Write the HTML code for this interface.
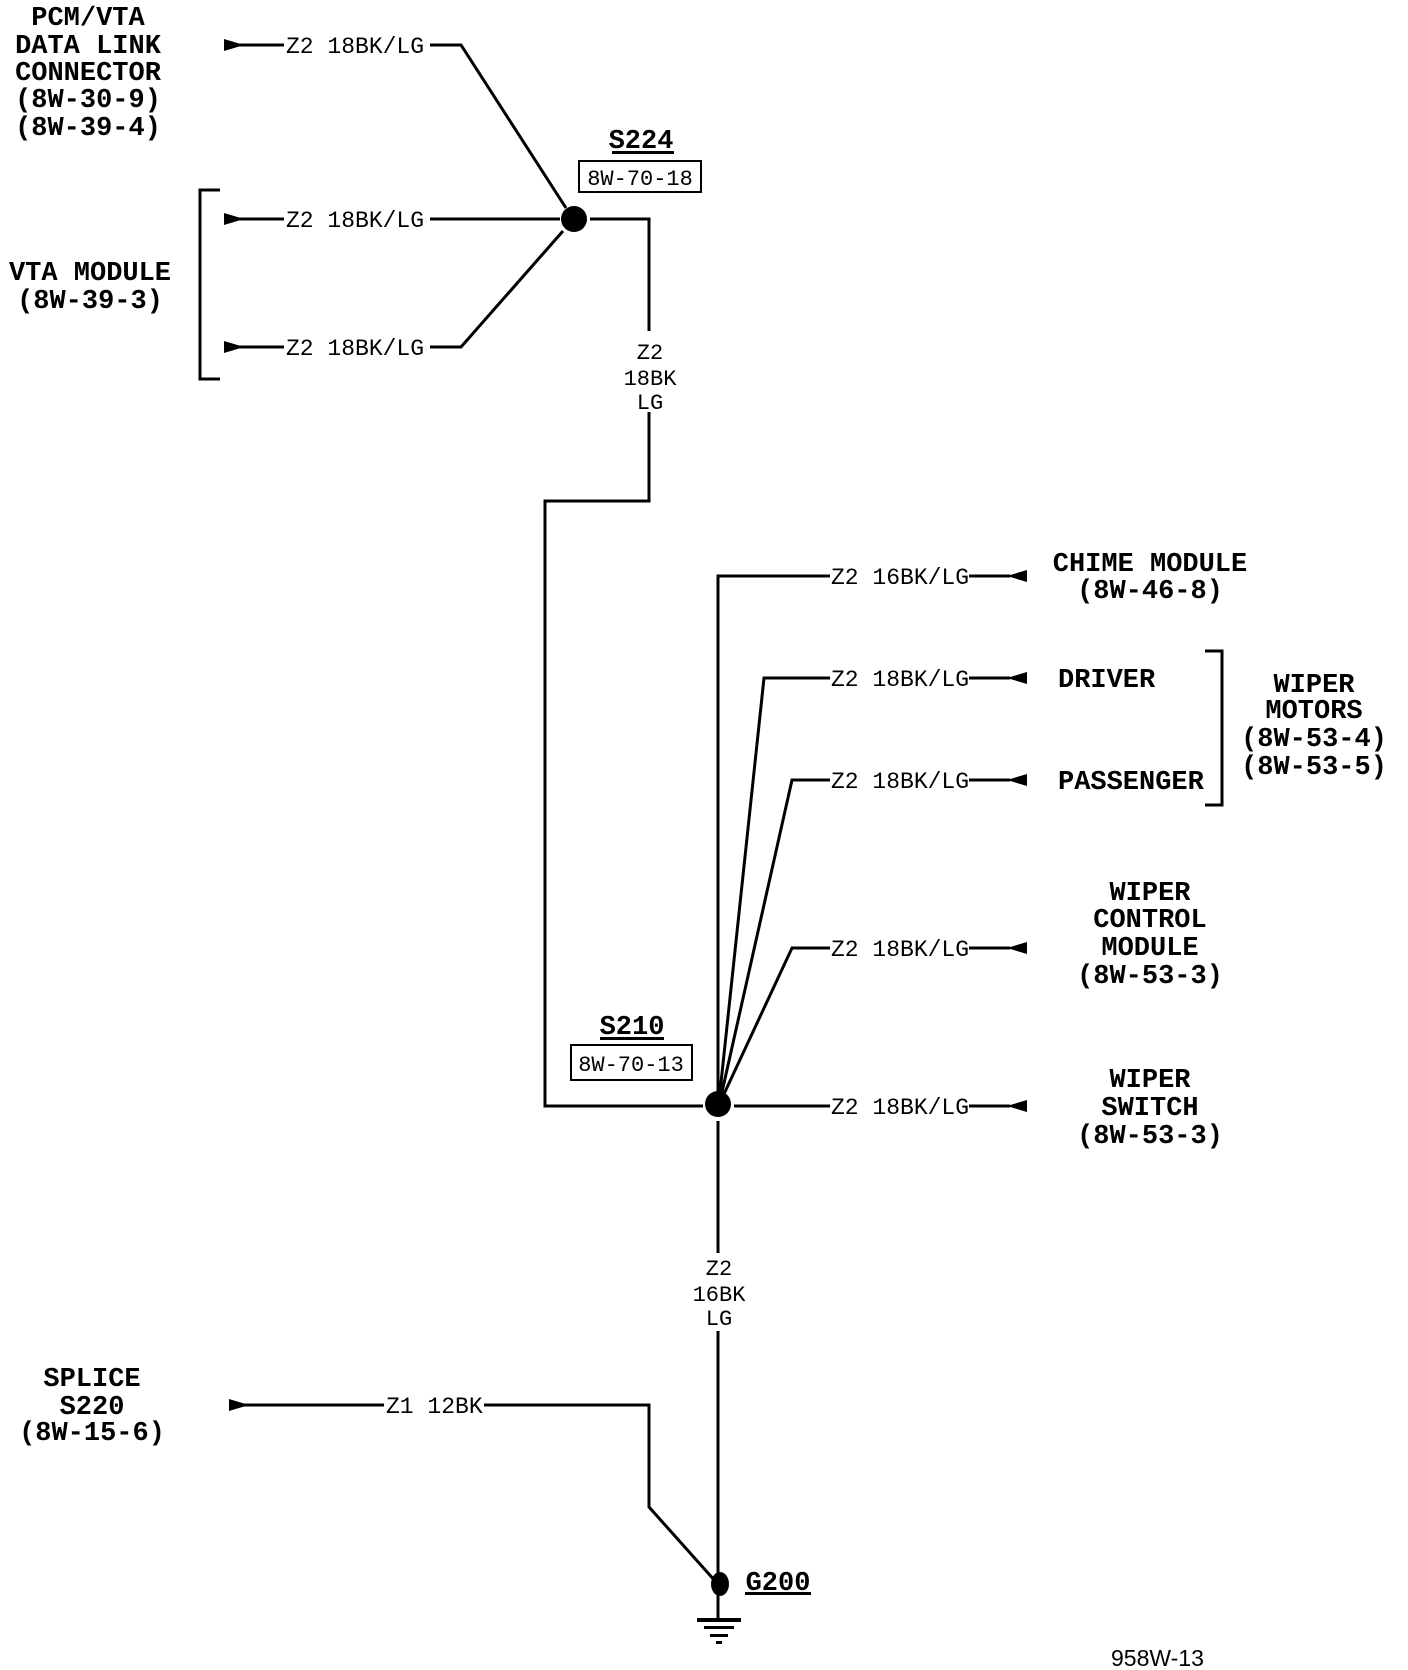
<!DOCTYPE html>
<html><head><meta charset="utf-8"><style>
html,body{margin:0;padding:0;background:#fff;}
svg{display:block}
.b{font-family:"Liberation Mono",monospace;font-weight:bold;font-size:27px;fill:#000;text-anchor:middle}
.w{font-family:"Liberation Mono",monospace;font-size:23px;fill:#000}
.m{font-family:"Liberation Mono",monospace;font-size:22px;fill:#000;text-anchor:middle}
</style></head><body>
<svg width="1408" height="1670" viewBox="0 0 1408 1670" xmlns="http://www.w3.org/2000/svg">
<g stroke="#000" stroke-width="3" fill="none">
<line x1="224" y1="45" x2="284" y2="45"/>
<polyline points="430,45 461,45 566,208"/>
<line x1="224" y1="219" x2="284" y2="219"/>
<line x1="430" y1="219" x2="560" y2="219"/>
<line x1="224" y1="347" x2="284" y2="347"/>
<polyline points="430,347 461,347 563,231"/>
<polyline points="220,190 200,190 200,379 220,379"/>
<polyline points="590,219 649,219 649,331"/>
<polyline points="649,412 649,501 545,501 545,1106 703,1106"/>
<polyline points="718,1092 718,576 830,576"/>
<polyline points="720,1092 764,678 830,678"/>
<polyline points="722,1092 792,780 830,780"/>
<polyline points="724,1094 792,948 830,948"/>
<line x1="734" y1="1106" x2="830" y2="1106"/>
<line x1="969" y1="576" x2="1010" y2="576"/>
<line x1="969" y1="678" x2="1010" y2="678"/>
<line x1="969" y1="780" x2="1010" y2="780"/>
<line x1="969" y1="948" x2="1010" y2="948"/>
<line x1="969" y1="1106" x2="1010" y2="1106"/>
<polyline points="1205,651 1222,651 1222,805 1205,805"/>
<line x1="718" y1="1121" x2="718" y2="1253"/>
<line x1="718" y1="1331" x2="718" y2="1619"/>
<line x1="229" y1="1405" x2="384" y2="1405"/>
<polyline points="484,1405 649,1405 649,1507 716,1582"/>
<rect x="579" y="161" width="122" height="31" stroke-width="2"/>
<rect x="571" y="1045" width="121" height="35" stroke-width="2"/>
</g>
<g fill="#000">
<polygon points="224,39 224,51 244,45"/>
<polygon points="224,213 224,225 244,219"/>
<polygon points="224,341 224,353 244,347"/>
<polygon points="229,1399 229,1411 249,1405"/>
<polygon points="1027,570 1027,582 1007,576"/>
<polygon points="1027,672 1027,684 1007,678"/>
<polygon points="1027,774 1027,786 1007,780"/>
<polygon points="1027,942 1027,954 1007,948"/>
<polygon points="1027,1100 1027,1112 1007,1106"/>
<circle cx="574" cy="219" r="13"/>
<circle cx="718" cy="1104" r="13"/>
<ellipse cx="720" cy="1584" rx="9" ry="12"/>
<rect x="697" y="1618" width="44" height="4"/>
<rect x="704" y="1626" width="30" height="3"/>
<rect x="710" y="1634" width="18" height="3"/>
<rect x="716" y="1641" width="6" height="3"/>
<rect x="612" y="151" width="62" height="3"/>
<rect x="600" y="1037" width="64" height="3"/>
<rect x="745" y="1592" width="66" height="3"/>
</g>
<g class="w">
<text x="286" y="53">Z2 18BK/LG</text>
<text x="286" y="227">Z2 18BK/LG</text>
<text x="286" y="355">Z2 18BK/LG</text>
<text x="831" y="584">Z2 16BK/LG</text>
<text x="831" y="686">Z2 18BK/LG</text>
<text x="831" y="788">Z2 18BK/LG</text>
<text x="831" y="956">Z2 18BK/LG</text>
<text x="831" y="1114">Z2 18BK/LG</text>
<text x="386" y="1413">Z1 12BK</text>
</g>
<g class="m">
<text x="640" y="185">8W-70-18</text>
<text x="631" y="1071">8W-70-13</text>
<text x="650" y="359">Z2</text><text x="650" y="385">18BK</text><text x="650" y="409">LG</text>
<text x="719" y="1275">Z2</text><text x="719" y="1301">16BK</text><text x="719" y="1325">LG</text>
</g>
<g class="b">
<text x="88" y="25">PCM/VTA</text><text x="88" y="53">DATA LINK</text><text x="88" y="80">CONNECTOR</text><text x="88" y="107">(8W-30-9)</text><text x="88" y="135">(8W-39-4)</text>
<text x="90" y="280">VTA MODULE</text><text x="90" y="308">(8W-39-3)</text>
<text x="641" y="148">S224</text>
<text x="632" y="1034">S210</text>
<text x="1150" y="571">CHIME MODULE</text><text x="1150" y="598">(8W-46-8)</text>
<text x="1058" y="687" text-anchor="start">DRIVER</text>
<text x="1058" y="789" text-anchor="start">PASSENGER</text>
<text x="1314" y="692">WIPER</text><text x="1314" y="718">MOTORS</text><text x="1314" y="746">(8W-53-4)</text><text x="1314" y="774">(8W-53-5)</text>
<text x="1150" y="900">WIPER</text><text x="1150" y="927">CONTROL</text><text x="1150" y="955">MODULE</text><text x="1150" y="983">(8W-53-3)</text>
<text x="1150" y="1087">WIPER</text><text x="1150" y="1115">SWITCH</text><text x="1150" y="1143">(8W-53-3)</text>
<text x="92" y="1386">SPLICE</text><text x="92" y="1414">S220</text><text x="92" y="1440">(8W-15-6)</text>
<text x="778" y="1590">G200</text>
</g>
<text x="1111" y="1666" font-family="Liberation Sans,sans-serif" font-size="23" fill="#000">958W-13</text>
</svg>
</body></html>
